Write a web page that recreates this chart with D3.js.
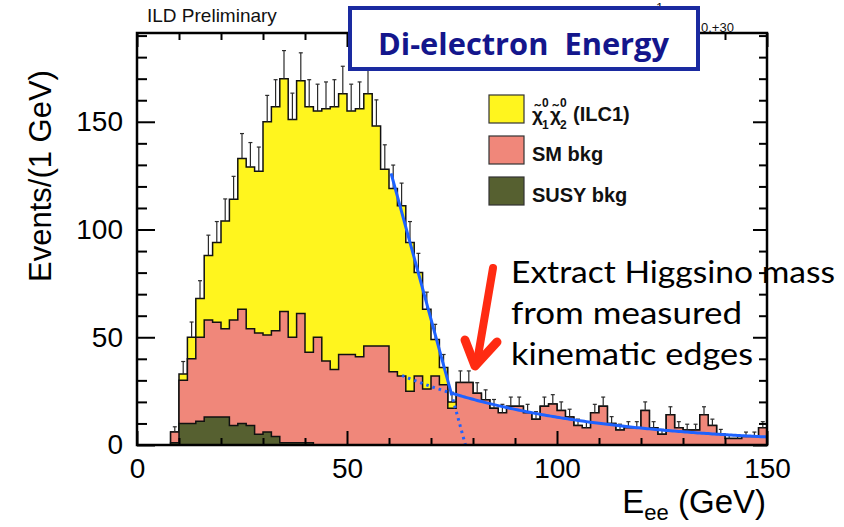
<!DOCTYPE html>
<html>
<head>
<meta charset="utf-8">
<script src="https://cdn.jsdelivr.net/npm/d3@7"></script>
<style>
  html, body { margin: 0; padding: 0; background: #fff; }
  svg { display: block; }
</style>
</head>
<body>
<svg id="chart" width="844" height="527"></svg>
<script>
// Di-electron energy spectrum, 2 GeV bins from 0 to 150 GeV (75 bins)
const binWidth = 2;
const xDomain = [0, 150];
const yDomain = [0, 191.2];

// Signal: neutralino pair production (ILC1)
const signal = [0,0,0,0,0,3,10,18,30,37,50,56,70,75,75,99,104,108,101,108,
                114,105,117,122,121,113,115,117,102,82,85,79,69,48,37,17,8,3,0,0,
                0,0,0,0,0,0,0,0,0,0,0,0,0,0,0,0,0,0,0,0,
                0,0,0,0,0,0,0,0,0,0,0,0,0,0,0];
// Standard Model background
const smBkg = [0,0,0,0,5,20,30,39,45,44,41,49,53,45,47,45,49,61,49,60,
               42,50,39,35,42,42,41,46,46,46,34,32,25,32,26,32,28,17,29,29,
               24,21,17,15,18,18,15,12,18,19,16,13,9,8,15,18,10,7,8,8,
               16,8,5,14,8,7,7,14,9,5,3,3,4,4,8];
// SUSY background
const susyBkg = [0,0,0,0,1,10,10,11,13,13,13,9,10,9,5,6,4,1,1,1,
                 1,0,0,0,0,0,0,0,0,0,0,0,0,0,0,0,0,0,0,0,
                 0,0,0,0,0,0,0,0,0,0,0,0,0,0,0,0,0,0,0,0,
                 0,0,0,0,0,0,0,0,0,0,0,0,0,0,0];

const xTickLabels = [0, 50, 100, 150];
const yTickLabels = [0, 50, 100, 150];
const legendLabels = ["SM bkg", "SUSY bkg"];
const annotationLines = ["Extract Higgsino mass", "from measured", "kinematic edges"];

// Edge fit: linear fall-off to the kinematic endpoint on top of an exponential background
const fitStart = 60.5;       // GeV
const fitEnd = 150;          // GeV
const fitEdgeEnd = 78.2;     // GeV, where the linear edge reaches zero
const fitEdgeSlope = 7.12;   // events per GeV
const fitBkgNorm = 24.0;     // events at fitBkgRef
const fitBkgRef = 75;        // GeV
const fitBkgDecay = 0.0248;  // 1/GeV
const fitBkgDottedFrom = 63.1; // GeV

const colors = {
  signal: "#fff51e",
  sm: "#f0877a",
  susy: "#566030",
  fit: "#1e62ff",
  arrow: "#ff2b12",
  navy: "#14168c",
  boxBorder: "#1a2aa0"
};

const W = 844, H = 527;
const plot = { left: 137, right: 767, top: 33, bottom: 445 };

const svg = d3.select("#chart");
svg.append("rect").attr("width", W).attr("height", H).attr("fill", "#fff");

const x = d3.scaleLinear().domain(xDomain).range([plot.left, plot.right]);
const y = d3.scaleLinear().domain(yDomain).range([plot.bottom, plot.top]);

svg.append("defs").append("clipPath").attr("id", "plotClip")
  .append("rect")
  .attr("x", plot.left).attr("y", plot.top)
  .attr("width", plot.right - plot.left).attr("height", plot.bottom - plot.top);

const gPlot = svg.append("g").attr("clip-path", "url(#plotClip)");

// cumulative stack: SUSY at the bottom, then SM, then signal
const cumSusy = susyBkg.slice();
const cumSm = smBkg.map((v, i) => v + cumSusy[i]);
const cumTotal = signal.map((v, i) => v + cumSm[i]);

function stepPoints(vals) {
  const pts = [];
  vals.forEach((v, i) => {
    pts.push([i * binWidth, v]);
    pts.push([(i + 1) * binWidth, v]);
  });
  return pts;
}

const area = d3.area().x(d => x(d[0])).y0(y(0)).y1(d => y(d[1]));
const outline = d3.line().x(d => x(d[0])).y(d => y(d[1]));

[[cumTotal, colors.signal], [cumSm, colors.sm], [cumSusy, colors.susy]].forEach(([vals, fill]) => {
  const pts = stepPoints(vals);
  gPlot.append("path").attr("d", area(pts)).attr("fill", fill);
  const edge = [[xDomain[0], 0], ...pts, [xDomain[1], 0]];
  gPlot.append("path").attr("d", outline(edge))
    .attr("fill", "none").attr("stroke", "#111").attr("stroke-width", 1.5)
    .attr("stroke-linejoin", "miter");
});

// statistical error bars on the summed histogram (upper half, with caps)
const gErr = gPlot.append("g").attr("stroke", "#2a2a2a").attr("stroke-width", 1.2);
cumTotal.forEach((v, i) => {
  if (v <= 0) return;
  const cx = x((i + 0.5) * binWidth);
  const top = y(v + Math.sqrt(v));
  gErr.append("line").attr("x1", cx).attr("x2", cx).attr("y1", y(v)).attr("y2", top);
  gErr.append("line").attr("x1", cx - 2).attr("x2", cx + 2).attr("y1", top).attr("y2", top);
});

// edge fit
const edgeFn = e => fitEdgeSlope * (fitEdgeEnd - e);
const bkgFn = e => fitBkgNorm * Math.exp(-fitBkgDecay * (e - fitBkgRef));
let lo = fitStart, hi = fitEdgeEnd;
for (let k = 0; k < 60; k++) {
  const mid = (lo + hi) / 2;
  if (edgeFn(mid) > bkgFn(mid)) lo = mid; else hi = mid;
}
const kink = (lo + hi) / 2;
const fitLine = d3.line().x(d => x(d[0])).y(d => y(d[1]));
const solidPts = [[fitStart, edgeFn(fitStart)], [kink, edgeFn(kink)]];
d3.range(Math.ceil(kink * 2) / 2, fitEnd + 0.001, 0.5).forEach(e => solidPts.push([e, bkgFn(e)]));
gPlot.append("path").attr("d", fitLine(solidPts))
  .attr("fill", "none").attr("stroke", colors.fit).attr("stroke-width", 3);
gPlot.append("path").attr("d", fitLine([[kink, edgeFn(kink)], [fitEdgeEnd, 0]]))
  .attr("fill", "none").attr("stroke", colors.fit).attr("stroke-width", 3)
  .attr("stroke-dasharray", "2.5,4");
const bkgDotPts = d3.range(fitBkgDottedFrom, kink, 0.25).map(e => [e, bkgFn(e)]);
bkgDotPts.push([kink, bkgFn(kink)]);
gPlot.append("path").attr("d", fitLine(bkgDotPts))
  .attr("fill", "none").attr("stroke", colors.fit).attr("stroke-width", 3)
  .attr("stroke-dasharray", "2.5,4");

// axes: ticks point into the frame on all four sides
const font = "'Liberation Sans', Arial, Helvetica, sans-serif";
const xMinor = d3.range(0, 151, 10).filter(v => v % 50 !== 0);
const yMinor = d3.range(0, 191, 10).filter(v => v % 50 !== 0);

function styleAxis(g) {
  g.select(".domain").remove();
  g.selectAll(".tick line").attr("stroke", "#000").attr("stroke-width", 2);
  g.selectAll(".tick text").attr("font-family", font).attr("font-size", 28).attr("fill", "#000");
}

svg.append("g").attr("transform", `translate(0,${plot.bottom})`)
  .call(d3.axisBottom(x).tickValues(xTickLabels).tickSize(-14).tickPadding(13).tickFormat(d3.format("d")))
  .call(styleAxis);
svg.append("g").attr("transform", `translate(0,${plot.bottom})`)
  .call(d3.axisBottom(x).tickValues(xMinor).tickSize(-7).tickFormat(""))
  .call(styleAxis);
svg.append("g").attr("transform", `translate(0,${plot.top})`)
  .call(d3.axisTop(x).tickValues(xTickLabels).tickSize(-14).tickFormat(""))
  .call(styleAxis);
svg.append("g").attr("transform", `translate(0,${plot.top})`)
  .call(d3.axisTop(x).tickValues(xMinor).tickSize(-7).tickFormat(""))
  .call(styleAxis);
svg.append("g").attr("transform", `translate(${plot.left},0)`)
  .call(d3.axisLeft(y).tickValues(yTickLabels).tickSize(-18).tickPadding(14).tickFormat(d3.format("d")))
  .call(styleAxis);
svg.append("g").attr("transform", `translate(${plot.left},0)`)
  .call(d3.axisLeft(y).tickValues(yMinor).tickSize(-10).tickFormat(""))
  .call(styleAxis);
svg.append("g").attr("transform", `translate(${plot.right},0)`)
  .call(d3.axisRight(y).tickValues(yTickLabels).tickSize(-14).tickFormat(""))
  .call(styleAxis);
svg.append("g").attr("transform", `translate(${plot.right},0)`)
  .call(d3.axisRight(y).tickValues(yMinor).tickSize(-8).tickFormat(""))
  .call(styleAxis);

svg.append("rect")
  .attr("x", plot.left).attr("y", plot.top)
  .attr("width", plot.right - plot.left).attr("height", plot.bottom - plot.top)
  .attr("fill", "none").attr("stroke", "#000").attr("stroke-width", 2.5);

// axis titles
svg.append("text")
  .attr("transform", "translate(51,282) rotate(-90)")
  .attr("font-family", font).attr("font-size", 31).attr("fill", "#000")
  .text("Events/(1 GeV)");

const xTitle = svg.append("text")
  .attr("x", 766).attr("y", 513).attr("text-anchor", "end")
  .attr("font-family", font).attr("font-size", 33).attr("fill", "#000");
xTitle.append("tspan").text("E");
xTitle.append("tspan").attr("font-size", 22).attr("dy", 7).text("ee");
xTitle.append("tspan").attr("dy", -7).text(" (GeV)");

// header
svg.append("text").attr("x", 147).attr("y", 22)
  .attr("font-family", font).attr("font-size", 19).attr("fill", "#111")
  .text("ILD Preliminary");
svg.append("text").attr("x", 656).attr("y", 12)
  .attr("font-family", font).attr("font-size", 13).attr("fill", "#111").text("1");
svg.append("text").attr("x", 701).attr("y", 32)
  .attr("font-family", font).attr("font-size", 13).attr("fill", "#111").text("0.+30");

// title box
svg.append("rect").attr("x", 350).attr("y", 8).attr("width", 348).attr("height", 61)
  .attr("fill", "#fff").attr("stroke", colors.boxBorder).attr("stroke-width", 4);
svg.append("text").attr("x", 378).attr("y", 55)
  .attr("font-family", "'Open Sans', Lato, sans-serif").attr("font-weight", 700)
  .attr("font-size", 31).attr("fill", colors.navy)
  .attr("textLength", 291).attr("lengthAdjust", "spacingAndGlyphs")
  .attr("xml:space", "preserve")
  .text("Di-electron  Energy");

// legend
const legFont = font;
const legendRows = [
  { fill: colors.signal, y: 95 },
  { fill: colors.sm, y: 136, label: legendLabels[0] },
  { fill: colors.susy, y: 177, label: legendLabels[1] }
];
legendRows.forEach(r => {
  svg.append("rect").attr("x", 489).attr("y", r.y).attr("width", 35).attr("height", 28)
    .attr("fill", r.fill).attr("stroke", "#333").attr("stroke-width", 1.2);
  if (r.label) {
    svg.append("text").attr("x", 532).attr("y", r.y + 25)
      .attr("font-family", legFont).attr("font-weight", 700).attr("font-size", 20)
      .attr("fill", "#111").text(r.label);
  }
});
// signal entry: chi-tilde with superscript 0 and subscripts 1, 2, then (ILC1)
const chiG = svg.append("g").attr("font-family", legFont).attr("font-weight", 700).attr("fill", "#111");
[[532, "1"], [550, "2"]].forEach(([cx, sub]) => {
  chiG.append("text").attr("x", cx).attr("y", 121).attr("font-size", 19).text("\u03C7\u0303");
  chiG.append("text").attr("x", cx + 10).attr("y", 107).attr("font-size", 12).text("0");
  chiG.append("text").attr("x", cx + 10).attr("y", 129).attr("font-size", 12).text(sub);
});
chiG.append("text").attr("x", 573).attr("y", 121).attr("font-size", 20).text("(ILC1)");

// annotation
const annX = 511;
const annBase = [283, 324, 365];
const annWidth = [324, 231, 242];
annotationLines.forEach((t, i) => {
  svg.append("text").attr("x", annX).attr("y", annBase[i])
    .attr("font-family", "Lato, 'Open Sans', sans-serif").attr("font-size", 31).attr("fill", "#000")
    .attr("textLength", annWidth[i]).attr("lengthAdjust", "spacingAndGlyphs")
    .text(t);
});

// arrow pointing at the edge
const arrowG = svg.append("g").attr("stroke", colors.arrow).attr("fill", "none")
  .attr("stroke-linecap", "round").attr("stroke-linejoin", "round");
arrowG.append("line").attr("x1", 493).attr("y1", 268).attr("x2", 477).attr("y2", 362)
  .attr("stroke-width", 8);
arrowG.append("path").attr("d", "M465,340 L475,366 L497,342")
  .attr("stroke-width", 9);
</script>
</body>
</html>
